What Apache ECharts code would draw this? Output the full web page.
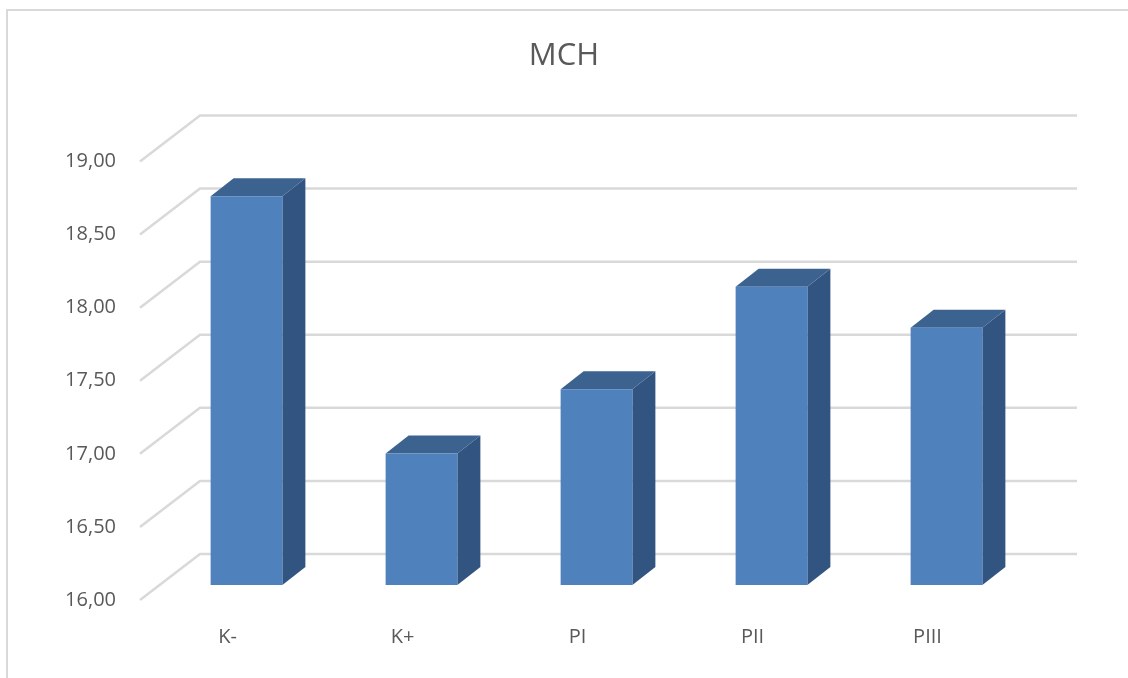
<!DOCTYPE html>
<html>
<head>
<meta charset="utf-8">
<script src="https://cdn.jsdelivr.net/npm/echarts@6/dist/echarts.min.js"></script>
<style>
html,body{margin:0;padding:0;background:#fff;}
#chart{width:1128px;height:678px;}
</style>
</head>
<body>
<div id="chart"></div>
<script>
var categories = ['K-', 'K+', 'PI', 'PII', 'PIII'];
var mchValues = [18.66, 16.90, 17.34, 18.04, 17.76];
var tickValues = [16.0, 16.5, 17.0, 17.5, 18.0, 18.5, 19.0];
var yMin = 16, yMax = 19, yStep = 0.5;

// 3D depth geometry (pixels)
var DEPTH_DX = 60, DEPTH_DY = -46;     // full floor depth
var FRONT_DX = 19, FRONT_DY = -15;     // bar front face position
var BAR_DX = 23, BAR_DY = -18;         // bar thickness

var chart = echarts.init(document.getElementById('chart'));

var option = {
  backgroundColor: '#ffffff',
  animation: false,
  title: {
    text: 'MCH',
    left: 'center',
    top: 36,
    textStyle: { fontFamily: 'Open Sans', fontSize: 31, fontWeight: 'normal', color: '#595959' }
  },
  graphic: [{
    type: 'rect',
    shape: { x: 7, y: 10, width: 1200, height: 700 },
    style: { fill: 'none', stroke: '#d9d9d9', lineWidth: 2 },
    silent: true,
    z: -10
  }],
  grid: { left: 140, top: 161.5, width: 875, height: 438.5, containLabel: false },
  xAxis: {
    type: 'category',
    data: categories,
    axisLine: { show: false },
    axisTick: { show: false },
    splitLine: { show: false },
    axisLabel: { margin: 27, fontFamily: 'Open Sans', fontSize: 20, color: '#595959' }
  },
  yAxis: {
    type: 'value',
    min: yMin, max: yMax, interval: yStep,
    axisLine: { show: false },
    axisTick: { show: false },
    splitLine: { show: false },
    axisLabel: {
      margin: 24, fontFamily: 'Open Sans', fontSize: 20, color: '#595959',
      formatter: function (v) { return v.toFixed(2).replace('.', ','); }
    }
  },
  series: [
    {
      type: 'custom',
      name: 'grid3d',
      silent: true,
      z: 1,
      data: tickValues.map(function (v) { return [0, v]; }),
      renderItem: function (params, api) {
        var cs = params.coordSys;
        var p = api.coord([0, api.value(1)]);
        var x0 = cs.x, y0 = p[1];
        return {
          type: 'polyline',
          shape: { points: [[x0, y0], [x0 + DEPTH_DX, y0 + DEPTH_DY], [cs.x + cs.width + DEPTH_DX + 2, y0 + DEPTH_DY]] },
          style: { stroke: '#d9d9d9', lineWidth: 2.5, fill: 'none' }
        };
      }
    },
    {
      type: 'custom',
      name: 'MCH',
      z: 5,
      data: mchValues.map(function (v, i) { return [i, v]; }),
      renderItem: function (params, api) {
        var i = api.value(0), v = api.value(1);
        var top = api.coord([i, v]);
        var bot = api.coord([i, yMin]);
        var w = api.size([1, 0])[0] * 0.41;
        var xl = top[0] - w / 2 + FRONT_DX, xr = top[0] + w / 2 + FRONT_DX;
        var yt = top[1] + FRONT_DY, yb = bot[1] + FRONT_DY;
        return {
          type: 'group',
          children: [
            { type: 'polygon', shape: { points: [[xr, yt], [xr + BAR_DX, yt + BAR_DY], [xr + BAR_DX, yb + BAR_DY], [xr, yb]] }, style: { fill: '#325481' } },
            { type: 'polygon', shape: { points: [[xl, yt], [xr, yt], [xr + BAR_DX, yt + BAR_DY], [xl + BAR_DX, yt + BAR_DY]] }, style: { fill: '#3c6390' } },
            { type: 'rect', shape: { x: xl, y: yt, width: xr - xl, height: yb - yt }, style: { fill: '#4f81bd' } }
          ]
        };
      }
    }
  ]
};
chart.setOption(option);
</script>
</body>
</html>
